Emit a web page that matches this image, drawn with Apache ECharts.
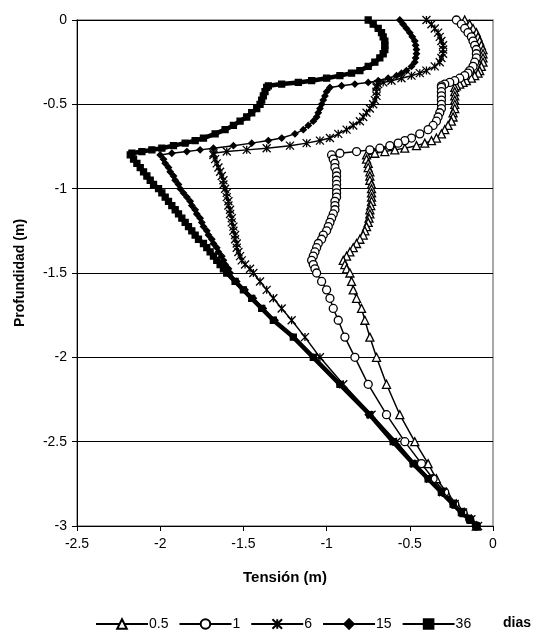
<!DOCTYPE html>
<html>
<head>
<meta charset="utf-8">
<style>
	html, body { margin: 0; padding: 0; background: #fff; }
	#chart { width: 537px; height: 641px; }
</style>
<script src="https://cdn.jsdelivr.net/npm/echarts@6/dist/echarts.min.js"></script>
</head>
<body>
<div id="chart"></div>
<script>
	// profundidad (m), comun a todas las series
	var depth = [0, -0.025, -0.05, -0.075, -0.1, -0.125, -0.15, -0.175, -0.2, -0.225, -0.25, -0.275, -0.3,
		-0.315, -0.33, -0.345, -0.36, -0.37, -0.38, -0.39, -0.4,
		-0.425, -0.45, -0.475, -0.5, -0.525, -0.55, -0.575, -0.6, -0.625, -0.65, -0.675, -0.7,
		-0.715, -0.73, -0.745, -0.76, -0.77, -0.78, -0.79, -0.8,
		-0.825, -0.85, -0.875, -0.9, -0.925, -0.95, -0.975, -1.0, -1.025, -1.05, -1.075, -1.1, -1.125, -1.15,
		-1.175, -1.2, -1.225, -1.25, -1.275, -1.3, -1.325, -1.35, -1.375, -1.4, -1.425, -1.45, -1.475, -1.5,
		-1.55, -1.6, -1.65, -1.71, -1.78, -1.88, -2.0, -2.16, -2.34, -2.5, -2.63, -2.72, -2.8, -2.87, -2.92, -2.96, -3.0];

	// tension (m) por dia
	var t05 = [-0.17, -0.14, -0.12, -0.10, -0.09, -0.08, -0.07, -0.06, -0.06, -0.06, -0.06, -0.07, -0.08,
		-0.09, -0.11, -0.13, -0.16, -0.18, -0.20, -0.22, -0.23,
		-0.23, -0.23, -0.23, -0.23, -0.23, -0.24, -0.24, -0.25, -0.27, -0.29, -0.31, -0.34,
		-0.37, -0.41, -0.46, -0.53, -0.59, -0.65, -0.71, -0.76,
		-0.76, -0.75, -0.75, -0.74, -0.74, -0.74, -0.73, -0.73, -0.73, -0.73, -0.73, -0.735, -0.74, -0.74,
		-0.745, -0.75, -0.76, -0.77, -0.78, -0.80, -0.82, -0.84, -0.86, -0.88, -0.90, -0.89, -0.88, -0.86,
		-0.85, -0.84, -0.82, -0.79, -0.77, -0.74, -0.70, -0.64, -0.56, -0.47, -0.39, -0.34, -0.28, -0.22, -0.17, -0.13, -0.10];

	var t1 = [-0.22, -0.19, -0.17, -0.15, -0.13, -0.12, -0.11, -0.10, -0.10, -0.10, -0.11, -0.12, -0.14,
		-0.15, -0.17, -0.20, -0.23, -0.26, -0.29, -0.31, -0.31,
		-0.31, -0.31, -0.31, -0.31, -0.31, -0.32, -0.33, -0.34, -0.36, -0.39, -0.44, -0.49,
		-0.53, -0.57, -0.62, -0.68, -0.74, -0.82, -0.92, -0.97,
		-0.96, -0.95, -0.95, -0.94, -0.94, -0.94, -0.94, -0.94, -0.94, -0.94, -0.95, -0.95, -0.95, -0.96,
		-0.97, -0.98, -0.99, -1.00, -1.02, -1.03, -1.05, -1.06, -1.07, -1.08, -1.09, -1.08, -1.07, -1.06,
		-1.03, -1.00, -0.98, -0.96, -0.93, -0.89, -0.83, -0.75, -0.64, -0.53, -0.43, -0.36, -0.29, -0.23, -0.18, -0.14, -0.10];

	var t6 = [-0.40, -0.37, -0.35, -0.33, -0.32, -0.31, -0.30, -0.30, -0.30, -0.31, -0.32, -0.35, -0.40,
		-0.44, -0.49, -0.55, -0.61, -0.66, -0.69, -0.70, -0.70,
		-0.70, -0.70, -0.71, -0.72, -0.74, -0.76, -0.78, -0.80, -0.84, -0.88, -0.93, -0.98,
		-1.04, -1.12, -1.22, -1.36, -1.48, -1.60, -1.68, -1.68,
		-1.67, -1.66, -1.65, -1.64, -1.63, -1.62, -1.62, -1.61, -1.60, -1.60, -1.59, -1.59, -1.58, -1.58,
		-1.57, -1.57, -1.56, -1.56, -1.55, -1.55, -1.54, -1.54, -1.53, -1.52, -1.51, -1.49, -1.46, -1.44,
		-1.40, -1.36, -1.32, -1.27, -1.21, -1.13, -1.04, -0.90, -0.73, -0.58, -0.47, -0.38, -0.30, -0.23, -0.18, -0.13, -0.09];

	var t15 = [-0.56, -0.54, -0.52, -0.50, -0.485, -0.47, -0.465, -0.46, -0.46, -0.465, -0.47, -0.49, -0.52,
		-0.55, -0.58, -0.63, -0.69, -0.75, -0.83, -0.91, -0.98,
		-1.00, -1.01, -1.02, -1.03, -1.04, -1.05, -1.06, -1.08, -1.11, -1.14, -1.19, -1.27,
		-1.35, -1.45, -1.56, -1.68, -1.76, -1.84, -1.93, -2.00,
		-1.98, -1.97, -1.95, -1.94, -1.92, -1.91, -1.89, -1.88, -1.86, -1.84, -1.82, -1.81, -1.79, -1.78,
		-1.76, -1.75, -1.74, -1.72, -1.71, -1.69, -1.68, -1.66, -1.65, -1.63, -1.62, -1.61, -1.59, -1.58,
		-1.54, -1.49, -1.44, -1.38, -1.31, -1.20, -1.08, -0.92, -0.75, -0.60, -0.48, -0.39, -0.31, -0.24, -0.19, -0.14, -0.10];

	var t36 = [-0.75, -0.72, -0.69, -0.67, -0.66, -0.65, -0.65, -0.65, -0.66, -0.68, -0.71, -0.75, -0.80,
		-0.85, -0.92, -1.00, -1.09, -1.17, -1.27, -1.35, -1.36,
		-1.37, -1.38, -1.39, -1.40, -1.42, -1.45, -1.48, -1.52, -1.56, -1.61, -1.67, -1.74,
		-1.79, -1.85, -1.92, -1.99, -2.05, -2.11, -2.17, -2.18,
		-2.16, -2.14, -2.12, -2.10, -2.08, -2.06, -2.04, -2.01, -1.99, -1.97, -1.95, -1.93, -1.91, -1.89,
		-1.87, -1.85, -1.83, -1.81, -1.79, -1.77, -1.74, -1.72, -1.70, -1.68, -1.66, -1.64, -1.62, -1.60,
		-1.55, -1.50, -1.45, -1.39, -1.32, -1.20, -1.08, -0.92, -0.74, -0.60, -0.48, -0.39, -0.31, -0.24, -0.19, -0.14, -0.10];

	var dayNames = ['0.5', '1', '6', '15', '36'];
	var xTicks = [-2.5, -2, -1.5, -1, -0.5, 0];

	var asterisk = 'path://M0,0L10,10M10,0L0,10M5,0L5,10';

	function pairs(t) {
		var out = [];
		for (var i = 0; i < t.length; i++) {
			out.push([t[i], depth[i]]);
		}
		return out;
	}

	var lineDefs = [
		{ data: t05, symbol: 'triangle', size: 8, fill: '#fff', width: 1.5 },
		{ data: t1, symbol: 'circle', size: 8, fill: '#fff', width: 1.5 },
		{ data: t6, symbol: asterisk, size: 8, fill: '#000', width: 1.5 },
		{ data: t15, symbol: 'diamond', size: 6, fill: '#000', width: 1.5 },
		{ data: t36, symbol: 'rect', size: 6, fill: '#000', width: 4.5 }
	];

	var seriesData = [];
	for (var k = 0; k < lineDefs.length; k++) {
		var d = lineDefs[k];
		seriesData.push({
			name: dayNames[k],
			type: 'line',
			data: pairs(d.data),
			symbol: d.symbol,
			symbolSize: d.size,
			showAllSymbol: true,
			animation: false,
			lineStyle: { color: '#000', width: d.width },
			itemStyle: { color: d.fill, borderColor: '#000', borderWidth: 1.3 }
		});
	}

	var chart = echarts.init(document.getElementById('chart'));
	var option = {
		backgroundColor: '#fff',
		animation: false,
		textStyle: { fontFamily: 'Liberation Sans, Arial, sans-serif' },
		grid: {
			left: 77,
			right: 44,
			top: 20,
			bottom: 115,
			show: true,
			borderColor: '#8c8c8c',
			borderWidth: 1.5
		},
		legend: {
			left: 90,
			top: 612,
			data: dayNames,
			itemWidth: 52,
			itemHeight: 12,
			itemGap: 10,
			textStyle: { color: '#000', fontSize: 14, padding: [0, 0, 0, -4] }
		},
		graphic: [{
			type: 'text',
			left: 503,
			top: 616,
			style: { text: 'dias', fontSize: 14, fontWeight: 'bold', fill: '#000', fontFamily: 'Liberation Sans, Arial, sans-serif' }
		}],
		xAxis: {
			type: 'value',
			min: xTicks[0],
			max: xTicks[xTicks.length - 1],
			interval: 0.5,
			name: 'Tensión (m)',
			nameLocation: 'middle',
			nameGap: 44,
			nameTextStyle: { color: '#000', fontSize: 15, fontWeight: 'bold' },
			axisLine: { onZero: false, lineStyle: { color: '#000', width: 1 } },
			axisTick: { show: true, length: 5, lineStyle: { color: '#000' } },
			axisLabel: { color: '#000', fontSize: 14, margin: 11 },
			splitLine: { show: false }
		},
		yAxis: {
			type: 'value',
			min: -3,
			max: 0,
			interval: 0.5,
			name: 'Profundidad (m)',
			nameLocation: 'middle',
			nameGap: 50,
			nameTextStyle: { color: '#000', fontSize: 14, fontWeight: 'bold' },
			axisLine: { onZero: false, lineStyle: { color: '#000', width: 1 } },
			axisTick: { show: true, length: 5, lineStyle: { color: '#000' } },
			axisLabel: { color: '#000', fontSize: 14, margin: 10 },
			splitLine: { show: true, lineStyle: { color: '#000', width: 1 } }
		},
		series: seriesData
	};
	chart.setOption(option);
</script>
</body>
</html>
